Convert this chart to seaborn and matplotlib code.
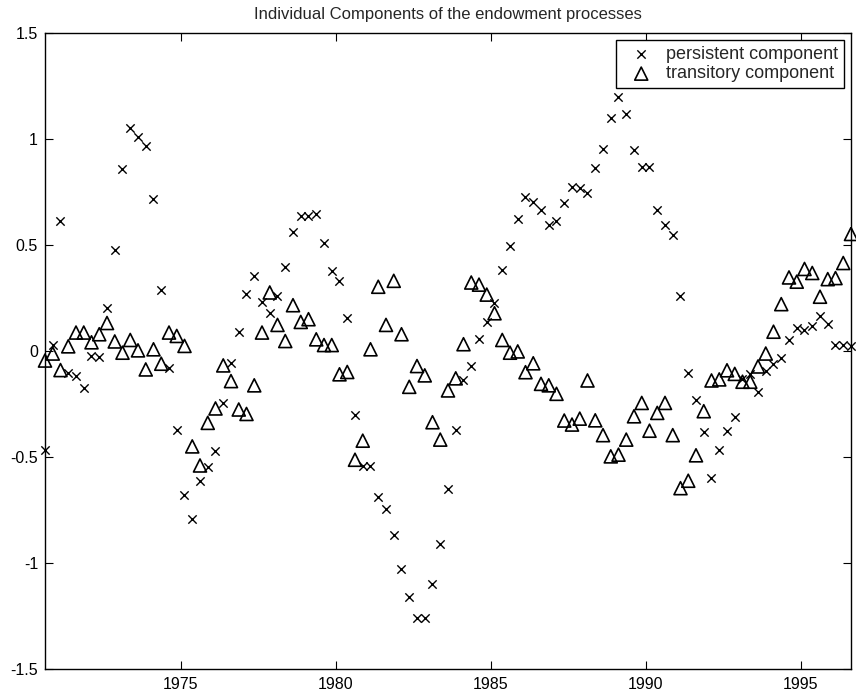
import numpy as np
import pandas as pd
import matplotlib
matplotlib.use("Agg")
import matplotlib.pyplot as plt
import seaborn as sns

# Quarterly observation dates
first_quarter = 1970.625
n_quarters = 105
dates = first_quarter + 0.25 * np.arange(n_quarters)

persistent = [
    -0.465, 0.030, 0.614, -0.105, -0.120, -0.175, -0.024, -0.028, 0.205, 0.476,
    0.860, 1.052, 1.008, 0.965, 0.716, 0.287, -0.079, -0.374, -0.678, -0.792,
    -0.612, -0.549, -0.470, -0.245, -0.055, 0.089, 0.271, 0.355, 0.229, 0.178,
    0.260, 0.394, 0.563, 0.636, 0.636, 0.647, 0.510, 0.379, 0.331, 0.155,
    -0.300, -0.541, -0.541, -0.689, -0.745, -0.866, -1.030, -1.159, -1.258, -1.258,
    -1.100, -0.909, -0.651, -0.374, -0.136, -0.071, 0.055, 0.137, 0.225, 0.383,
    0.495, 0.623, 0.725, 0.702, 0.666, 0.596, 0.615, 0.697, 0.773, 0.770,
    0.744, 0.864, 0.954, 1.101, 1.199, 1.120, 0.950, 0.867, 0.867, 0.666,
    0.592, 0.549, 0.260, -0.103, -0.232, -0.383, -0.600, -0.465, -0.375, -0.312,
    -0.130, -0.110, -0.194, -0.095, -0.060, -0.035, 0.053, 0.108, 0.097, 0.120,
    0.166, 0.126, 0.030, 0.028, 0.024,
]

transitory = [
    -0.045, -0.012, -0.090, 0.022, 0.087, 0.087, 0.041, 0.079, 0.132, 0.045,
    -0.008, 0.052, 0.003, -0.087, 0.008, -0.060, 0.087, 0.071, 0.024, -0.450,
    -0.540, -0.339, -0.271, -0.068, -0.142, -0.276, -0.297, -0.162, 0.087, 0.276,
    0.123, 0.047, 0.216, 0.137, 0.150, 0.055, 0.028, 0.028, -0.110, -0.099,
    -0.513, -0.423, 0.008, 0.303, 0.123, 0.331, 0.079, -0.169, -0.071, -0.115,
    -0.336, -0.418, -0.186, -0.129, 0.032, 0.323, 0.313, 0.266, 0.178, 0.052,
    -0.008, -0.002, -0.100, -0.058, -0.155, -0.162, -0.202, -0.328, -0.347, -0.319,
    -0.139, -0.327, -0.397, -0.497, -0.489, -0.418, -0.308, -0.245, -0.376, -0.292,
    -0.245, -0.397, -0.647, -0.612, -0.492, -0.284, -0.139, -0.134, -0.091, -0.108,
    -0.145, -0.145, -0.073, -0.012, 0.091, 0.221, 0.347, 0.327, 0.387, 0.368,
    0.256, 0.339, 0.344, 0.415, 0.552,
]

x_ticks = [1975, 1980, 1985, 1990, 1995]
x_tick_labels = ["1975", "1980", "1985", "1990", "1995"]
y_ticks = [-1.5, -1.0, -0.5, 0.0, 0.5, 1.0, 1.5]
y_tick_labels = ["-1.5", "-1", "-0.5", "0", "0.5", "1", "1.5"]

title = "Individual Components of the endowment processes"
label_persistent = "persistent component"
label_transitory = "transitory component"

df = pd.DataFrame({"date": dates, "persistent": persistent, "transitory": transitory})

sns.set_style("ticks")
plt.rcParams["font.family"] = ["Liberation Sans", "DejaVu Sans"]

fig = plt.figure(figsize=(8.56, 6.97), dpi=100)
ax = fig.add_axes([45 / 856, 1 - 669 / 697, 806 / 856, 636 / 697])

sns.scatterplot(data=df, x="date", y="persistent", ax=ax, marker="x", s=36,
                color="black", linewidth=1.0, label=label_persistent,
                clip_on=False, zorder=3)
sns.scatterplot(data=df, x="date", y="transitory", ax=ax, marker="^", s=88,
                facecolors="none", edgecolors="black", linewidth=1.2,
                label=label_transitory, clip_on=False, zorder=3)

ax.set_xlim(dates[0], dates[-1])
ax.set_ylim(-1.5, 1.5)
ax.set_xticks(x_ticks)
ax.set_xticklabels(x_tick_labels)
ax.set_yticks(y_ticks)
ax.set_yticklabels(y_tick_labels)
ax.set_xlabel("")
ax.set_ylabel("")

ax.tick_params(axis="both", direction="in", length=6, width=0.8, colors="black",
               labelsize=11.5, top=True, right=True)
ax.tick_params(axis="x", pad=6)
ax.tick_params(axis="y", pad=5)
for side in ax.spines.values():
    side.set_visible(True)
    side.set_color("black")
    side.set_linewidth(1.0)

ax.set_title(title, fontsize=12, pad=10)

leg = ax.legend(loc="upper right", fontsize=13, frameon=True, fancybox=False,
                framealpha=1, edgecolor="black", borderaxespad=0.4,
                borderpad=0.3, handletextpad=0.3, handlelength=2.17,
                labelspacing=0.15)
leg.get_frame().set_linewidth(1.0)

fig.savefig("out.png", dpi=100)
